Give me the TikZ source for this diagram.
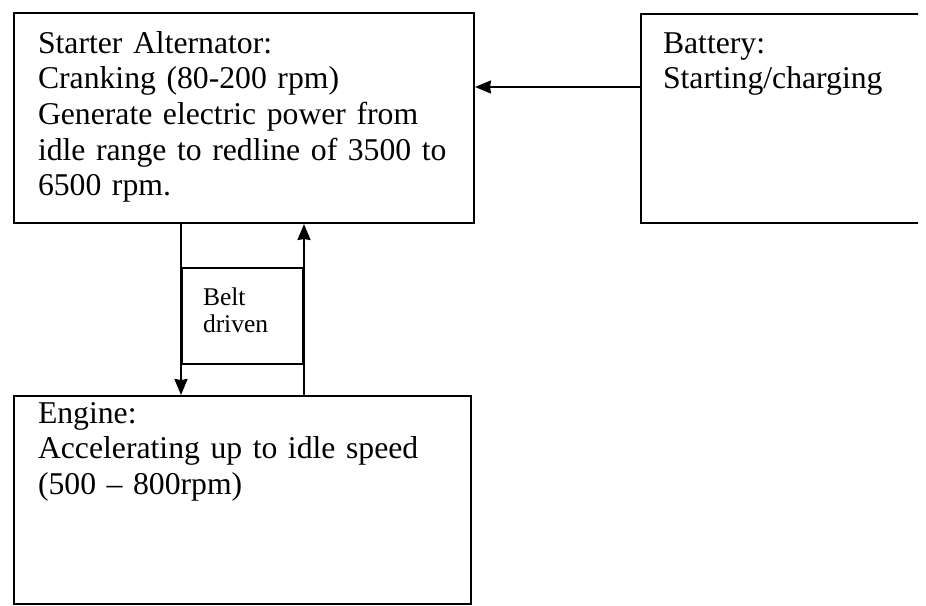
\documentclass[tikz,border=0pt]{standalone}
\usepackage{fontspec}
\setmainfont{Liberation Serif}
\usetikzlibrary{arrows.meta}

\tikzset{
  box/.style={draw, rectangle, anchor=north west, inner sep=0pt},
  boxtext/.style={anchor=base west, inner sep=0pt, text width=#1, align=left,
    font=\fontsize{31.7}{35.7}\selectfont},
  belttext/.style={anchor=base west, inner sep=0pt, text width=80pt, align=left,
    font=\fontsize{25.5}{27.5}\selectfont}
}

\begin{document}
\begin{tikzpicture}[x=1pt, y=-1pt, line width=2pt, >={Stealth[length=16pt,width=13pt,inset=1pt]}]
    \useasboundingbox (0,0) rectangle (926,605);
    % Starter alternator
    \node[box, minimum width=460pt, minimum height=210pt] (sa) at (13,12) {};
    \node[boxtext=440pt] (satext) at (37,53) {Starter Alternator:\\Cranking (80-200 rpm)\\Generate electric power from\\idle range to redline of 3500 to\\6500 rpm.};

    % Battery (runs off the right edge)
    \begin{scope}
        \clip (0,0) rectangle (918,605);
        \node[box, minimum width=320pt, minimum height=209pt] (bat) at (640,13) {};
    \end{scope}
    \node[boxtext=260pt] (battext) at (662,53) {Battery:\\Starting/charging};

    % Engine
    \node[box, minimum width=457pt, minimum height=208pt] (eng) at (13,395) {};
    \node[boxtext=430pt] (engtext) at (37,423) {Engine:\\Accelerating up to idle speed\\(500 -- 800rpm)};

    % Belt drive
    \node[box, minimum width=121pt, minimum height=96pt] (belt) at (181,267) {};
    \node[belttext] (belttxt) at (202,305) {Belt\\driven};

    % Connectors
    \coordinate (batin) at (640,87);
    \draw[->] (batin) -- (batin -| sa.east);
    \draw[->] (belt.north west |- sa.south) -- (belt.south west |- eng.north);
    \draw[->] (belt.south east |- eng.north) -- (belt.north east |- sa.south);
\end{tikzpicture}
\end{document}
